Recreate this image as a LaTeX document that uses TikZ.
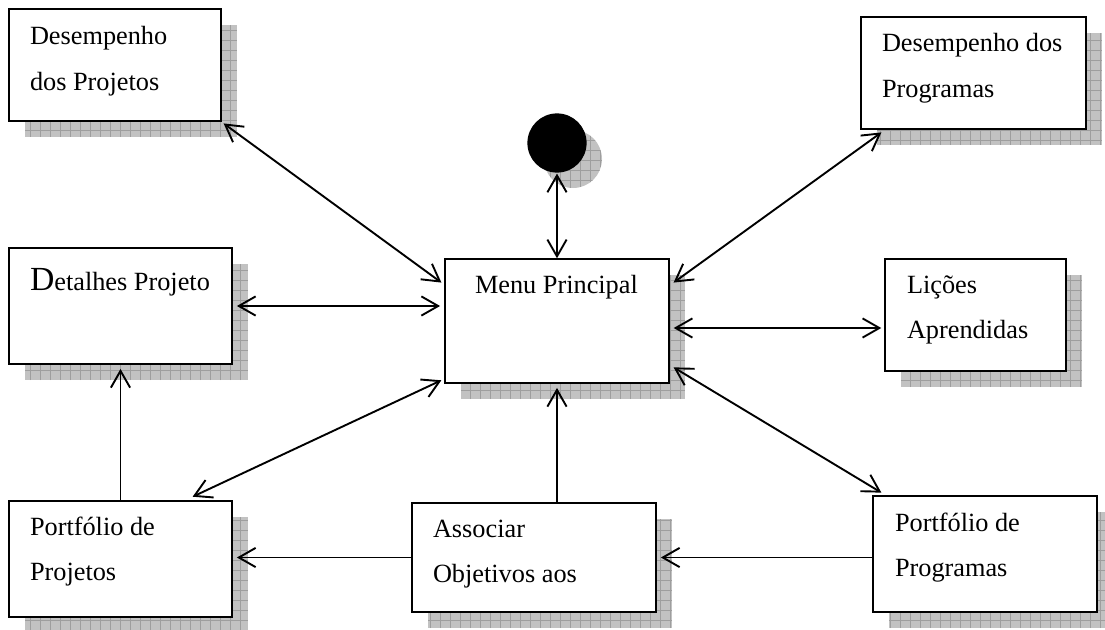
\documentclass[tikz,border=0pt]{standalone}
\usepackage{fontspec}
\setmainfont{Liberation Serif}
\usetikzlibrary{arrows.meta,backgrounds}

% two stacked text lines, baseline on the first one
\newcommand\twolines[2]{\vtop{\hbox{#1}\hbox{#2}}}

% hatched drop shadow behind a rectangular node
\newcommand\boxshadow[1]{%
  \fill[shadowfill] ([shift={(16,16)}]#1.north west) rectangle ([shift={(16,16)}]#1.south east);
  \begin{scope}
    \clip ([shift={(16,16)}]#1.north west) rectangle ([shift={(16,16)}]#1.south east);
    \draw[shadowgrid] ([shift={(16,16)}]#1.north west) grid ([shift={(16,16)}]#1.south east);
  \end{scope}}

\begin{document}
\begin{tikzpicture}[x=0.025cm,y=-0.025cm,
  box/.style={draw, line width=1.4pt, fill=white, inner sep=0pt, outer sep=0pt, anchor=north west},
  sz/.style 2 args={minimum width=#1*0.025cm, minimum height=#2*0.025cm},
  txt/.style={anchor=base west, inner sep=0pt, outer sep=0pt, font=\fontsize{18.7}{32.4}\selectfont},
  shadowfill/.style={fill=black!24},
  shadowgrid/.style={draw=black!38, line width=0.3pt, step=0.25cm},
  link/.style={line width=1.35pt, shorten <=0.5pt, shorten >=0.5pt},
  >={Straight Barb[length=0.42cm,width=0.48cm]}
]
\useasboundingbox (0,0) rectangle (1105,630);

% boxes
\node[box, sz={212}{112}] (dproj) at (9,9) {};
\node[box, sz={225}{112}] (dprog) at (861,17) {};
\node[box, sz={224}{124}] (menu) at (445,259) {};
\node[box, sz={181}{112}] (licoes) at (885,259) {};
\node[box, sz={223}{116}] (detalhes) at (9,248) {};
\node[box, sz={223}{116}] (pproj) at (9,501) {};
\node[box, sz={244}{109}] (assoc) at (412,503) {};
\node[box, sz={224}{116}] (pprog) at (873,496) {};
\node[circle, fill=black, inner sep=0pt, minimum size=1.48cm] (dot) at (557,143) {};

% shadows
\begin{scope}[on background layer]
  \boxshadow{dproj}
  \boxshadow{dprog}
  \boxshadow{menu}
  \boxshadow{licoes}
  \boxshadow{detalhes}
  \boxshadow{pproj}
  \boxshadow{assoc}
  \boxshadow{pprog}
  \fill[shadowfill] ([shift={(16,16)}]dot.center) circle[radius=0.725cm];
  \begin{scope}
    \clip ([shift={(16,16)}]dot.center) circle[radius=0.725cm];
    \draw[shadowgrid] ([shift={(-14,-14)}]dot.center) grid ([shift={(46,46)}]dot.center);
  \end{scope}
\end{scope}

% labels
\node[txt] (t-dproj) at (30,45) {\twolines{Desempenho}{dos Projetos}};
\node[txt] (t-dprog) at (882,52) {\twolines{Desempenho dos}{Programas}};
\node[txt] (t-menu) at (475,293) {Menu Principal};
\node[txt] (t-licoes) at (907,293) {\twolines{Lições}{Aprendidas}};
\node[txt] (t-detalhes) at (30,290) {{\fontsize{24}{24}\selectfont D}etalhes Projeto};
\node[txt] (t-pproj) at (30,535) {\twolines{Portfólio de}{Projetos}};
\node[txt] (t-assoc) at (433,537) {\twolines{Associar}{Objetivos aos}};
\node[txt] (t-pprog) at (895,531) {\twolines{Portfólio de}{Programas}};

% connectors
\draw[link, <->] ([shift={(2,2)}]dproj.south east) -- ([shift={(-3,24)}]menu.north west);
\draw[link, <->] ([shift={(21,3)}]dprog.south west) -- ([shift={(4,24)}]menu.north east);
\draw[link, <->] (dot.south) -- (menu.north);
\draw[link, <->] ([xshift=3pt]detalhes.east) -- ([xshift=-3pt]menu.west |- detalhes.east);
\draw[link, <->] ([shift={(4,69)}]menu.north east) -- ([shift={(-3,69)}]licoes.north west);
\draw[link, <->] ([shift={(183,-4)}]pproj.north west) -- ([shift={(-3,-3)}]menu.south west);
\draw[link, <->] ([shift={(4,-16)}]menu.south east) -- ([shift={(9,-3)}]pprog.north west);
\draw[link, ->] (assoc.north -| menu.south) -- ([yshift=-3pt]menu.south);
\draw[link, ->] (pproj.north) -- ([yshift=-3pt]detalhes.south);
\draw[link, ->] (assoc.west) -- ([xshift=3pt]pproj.east |- assoc.west);
\draw[link, ->] (pprog.west |- assoc.east) -- ([xshift=3pt]assoc.east);
\end{tikzpicture}
\end{document}
